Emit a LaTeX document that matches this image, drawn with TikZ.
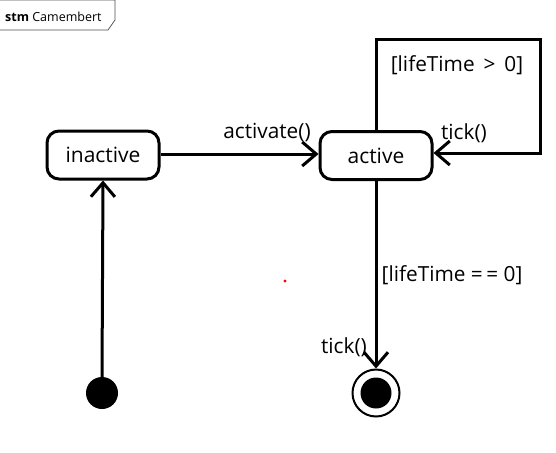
\documentclass[tikz,border=0pt]{standalone}
\usepackage{fontspec}
\setmainfont{Open Sans}
\usetikzlibrary{arrows.meta}
\begin{document}
\begin{tikzpicture}[x=1pt,y=-1pt,
  statebox/.style={draw,line width=3pt,rounded corners=12pt,minimum width=112pt,minimum height=48pt,inner sep=0pt,font=\fontsize{21}{25}\selectfont},
  trans/.style={line width=3pt,-{Straight Barb[length=14pt,width=24pt,line width=3pt]}},
  lbl/.style={font=\fontsize{20.8}{25}\selectfont,inner sep=0pt}]
\useasboundingbox (0,0) rectangle (556,452);
% frame label
\draw[line width=0.7pt,gray!60!black] (0,0) -- (115,0) -- (115,20) -- (108,30) -- (0,30);
\node[anchor=west,inner sep=0pt,font=\fontsize{12.5}{14}\selectfont] (frametitle) at (5,17) {\textbf{stm} Camembert};
% states
\node[statebox] (inactive) at (103,155) {inactive};
\node[statebox] (active) at (376,155.5) {active};
\fill (102,393) circle (16) coordinate (init);
\node[circle,draw,line width=2pt,minimum size=47pt,inner sep=0pt] (final) at (376,393) {};
\fill (final.center) circle (15.5);
\coordinate (initTop) at (102,377);
% transitions
\draw[trans] (initTop) -- (inactive.south);
\draw[trans] (inactive.east |- 0,154) -- (active.west |- 0,154);
\coordinate (loopA) at (376,40);
\coordinate (loopB) at (540,40);
\coordinate (loopC) at (540,153);
\draw[trans,line join=miter] (active.north) -- (loopA) -- (loopB) -- (loopC) -- (active.east |- loopC);
\draw[trans] (active.south) -- (final.north);
% labels
\node[lbl] (l1) at (267,133) {activate()};
\node[lbl] (l2) at (457,65) {[lifeTime \,>\, 0]};
\node[lbl] (l3) at (464,133) {tick()};
\node[lbl] (l4) at (452,275) {[lifeTime =\,= 0]};
\node[lbl] (l5) at (344,347) {tick()};
% red dot
\fill[red] (285,281) circle (1.6);
\end{tikzpicture}
\end{document}
